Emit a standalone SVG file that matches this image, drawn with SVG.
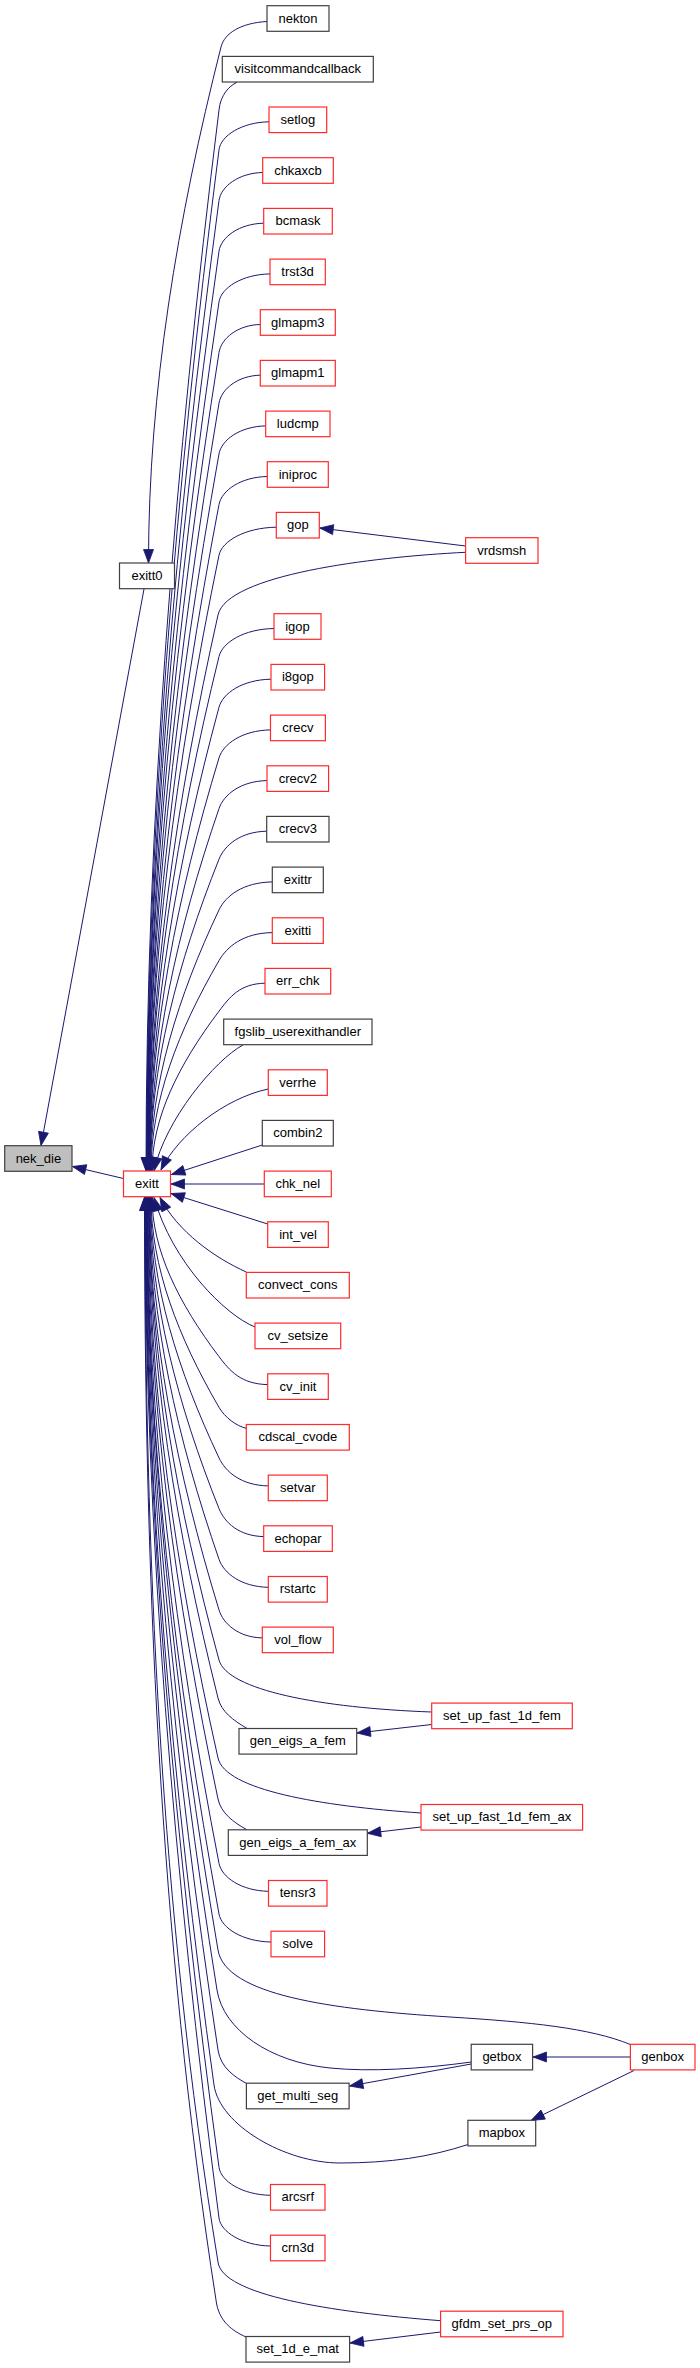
<svg xmlns="http://www.w3.org/2000/svg" width="700" height="2368" viewBox="0 0 700 2368">
<defs>
<style>
.n rect{fill:#fff;stroke:#404040;stroke-width:1.2}
.r rect{fill:#fff;stroke:#ff2a2a;stroke-width:1.2}
.g rect{fill:#bfbfbf;stroke:#404040;stroke-width:1.2}
text{font-family:"Liberation Sans",Arial,sans-serif;font-size:13px;fill:#000;text-anchor:middle}
#edges path{fill:none;stroke:#191970;stroke-width:1;marker-end:url(#a)}
</style>
<marker id="a" markerUnits="userSpaceOnUse" orient="auto" refX="0" refY="0" markerWidth="16" markerHeight="12" overflow="visible">
<path d="M-13.5,-5 L0,0 L-13.5,5 z" fill="#191970" stroke="#191970" stroke-width="0.8"/>
</marker>
</defs>
<rect width="700" height="2368" fill="#fff"/>
<g id="edges">
<path d="M267,21.5 C241,23 224.5,33 221,47 C177.5,219 148.5,391 148.5,563"/>
<path d="M144,589 L41,1145.5"/>
<path d="M123.5,1178.5 L72.5,1166.5"/>
<path d="M237,82.3 C229,86 220.5,95 219,110 C175.2,463.7 146,817.3 146,1171"/>
<path d="M269,121.8 C241.5,122.3 220.8,135.8 219,149.8 C175.5,490.2 146.5,830.6 146.5,1171"/>
<path d="M262.7,172.5 C238.7,173 220.9,186.5 219,200.5 C175.8,524 147,847.5 147,1171"/>
<path d="M263.7,223.2 C239.1,223.7 221,237.2 219,251.2 C175.8,557.8 147,864.4 147,1171"/>
<path d="M270,273.9 C242,274.4 221.1,287.9 219,301.9 C176.1,591.6 147.5,881.3 147.5,1171"/>
<path d="M260.3,324.5 C237.6,325 221.2,338.5 219,352.5 C176.1,625.3 147.5,898.2 147.5,1171"/>
<path d="M260.3,375.2 C237.6,375.7 221.3,389.2 219,403.2 C176.4,659.1 148,915.1 148,1171"/>
<path d="M265.7,425.9 C240,426.4 221.5,439.9 219,453.9 C176.4,692.9 148,932 148,1171"/>
<path d="M267.3,476.5 C240.7,477 221.7,490.5 219,504.5 C176.7,726.7 148.5,948.8 148.5,1171"/>
<path d="M276.3,527.2 C244.8,527.7 221.9,541.2 219,555.2 C176.7,760.5 148.5,965.7 148.5,1171"/>
<path d="M465.6,552.3 C370,557 226.9,575 218,615 C176.6,800.3 149,985.7 149,1171"/>
<path d="M465.6,546 L319.8,528"/>
<path d="M274,628.5 C243.8,629 222.4,642.5 219,656.5 C177,828 149,999.5 149,1171"/>
<path d="M271,679.2 C242.4,679.7 222.8,693.2 219,707.2 C177.3,861.8 149.5,1016.4 149.5,1171"/>
<path d="M270.5,729.9 C242.2,730.4 223.2,743.9 219,757.9 C177.3,895.6 149.5,1033.3 149.5,1171"/>
<path d="M267,780.6 C240.6,781.1 223.8,794.6 219,808.6 C177.6,929.4 150,1050.2 150,1171"/>
<path d="M266.7,831.2 C240.5,831.7 224.6,845.2 219,859.2 C177.6,963.1 150,1067.1 150,1171"/>
<path d="M272.3,881.9 C243,882.4 225.6,895.9 219,909.9 C177.9,996.9 150.5,1084 150.5,1171"/>
<path d="M272.3,932.6 C243,933.1 227.1,946.6 219,960.6 C178.2,1030.7 151,1100.9 151,1171"/>
<path d="M265,983.2 C239.7,983.7 229.6,997.2 219,1011.2 C178.8,1064.5 152,1117.7 152,1171"/>
<path d="M243,1045 C215,1060 165,1120 154,1171"/>
<path d="M268.3,1089 C225,1098 178,1135 161,1170"/>
<path d="M262.3,1145 L171.5,1174.5"/>
<path d="M264.3,1184 L171,1184"/>
<path d="M267.7,1224 L171,1193.5"/>
<path d="M246.3,1272 C215,1258 178,1232 160,1197.5"/>
<path d="M255,1327 C225,1315 172,1262 154,1197.5"/>
<path d="M267.7,1384.6 C240.9,1384.1 229.6,1370.6 219,1356.6 C178.8,1303.4 152,1250.2 152,1197"/>
<path d="M247,1428.5 C236,1426 224.8,1417.3 219,1407.3 C178.2,1337.2 151,1267.1 151,1197"/>
<path d="M268.3,1485.9 C241.2,1485.4 225.6,1471.9 219,1457.9 C177.9,1370.9 150.5,1284 150.5,1197"/>
<path d="M263.7,1536.6 C239.1,1536.1 224.6,1522.6 219,1508.6 C177.6,1404.7 150,1300.9 150,1197"/>
<path d="M268.3,1587.3 C241.2,1586.8 223.8,1573.3 219,1559.3 C177.3,1438.5 149.5,1317.8 149.5,1197"/>
<path d="M262.3,1637.9 C238.5,1637.4 223.3,1623.9 219,1609.9 C177,1472.3 149,1334.6 149,1197"/>
<path d="M431.7,1712 C320,1708 227.2,1690 219,1660 C177,1505.7 149,1351.3 149,1197"/>
<path d="M431.7,1724.5 L357,1733"/>
<path d="M247,1728.5 C233,1720 221.5,1712 218,1698 C176.3,1531 148.5,1364 148.5,1197"/>
<path d="M421,1813 C320,1806 225.2,1790 218,1758 C176,1571 148,1384 148,1197"/>
<path d="M421,1827 L367.3,1833.3"/>
<path d="M247,1829.8 C233,1822 221,1813 218,1799 C175.7,1598.3 147.5,1397.7 147.5,1197"/>
<path d="M268.5,1891.3 C241.3,1890.8 221.7,1877.3 219,1863.3 C175.8,1641.2 147,1419.1 147,1197"/>
<path d="M271,1942 C242.4,1941.5 221.5,1928 219,1914 C175.5,1675 146.5,1436 146.5,1197"/>
<path d="M630.4,2044.5 C590,2028 530,2022 450,2017 C330,2009.5 225.6,1995 218,1950 C175.4,1699 147,1448 147,1197"/>
<path d="M630.4,2057 L533,2057"/>
<path d="M634,2070.5 L531,2120.5"/>
<path d="M471.5,2062 C420,2069 370,2072 330,2068 C270,2062 223.4,2030 217,1990 C174.7,1725.7 146.5,1461.3 146.5,1197"/>
<path d="M471.2,2064 L349.5,2086"/>
<path d="M246.5,2083.5 C235,2077 220.7,2068 218,2050 C174.8,1765.7 146,1481.3 146,1197"/>
<path d="M468,2144.5 C430,2157 390,2163 340,2163 C285,2163 219.6,2125 214,2085 C172.9,1789 145.5,1493 145.5,1197"/>
<path d="M270.5,2195.3 C242.2,2194.8 220.9,2181.3 219,2167.3 C174.9,1843.9 145.5,1520.4 145.5,1197"/>
<path d="M270.5,2246 C242.2,2245.5 220.8,2232 219,2218 C174.6,1877.7 145,1537.3 145,1197"/>
<path d="M440.6,2320.7 C330,2312 222,2295 218,2262 C160,1907 145,1552 145,1197"/>
<path d="M440.6,2332 L350,2343"/>
<path d="M246,2337 C233,2331 218.6,2322 216,2300 C158.8,1932.3 144.5,1564.7 144.5,1197"/>
</g>
<g id="nek_die" class="g"><rect x="4.7" y="1145.7" width="67.3" height="25.6"/><text x="38.4" y="1162.5">nek_die</text></g>
<g id="exitt" class="r"><rect x="123.5" y="1171" width="47" height="25.7"/><text x="147" y="1188">exitt</text></g>
<g id="exitt0" class="n"><rect x="119.5" y="563" width="55" height="25.7"/><text x="147" y="580">exitt0</text></g>
<g id="nekton" class="n"><rect x="267" y="5.7" width="62" height="25.6"/><text x="298" y="22.5">nekton</text></g>
<g id="visitcommandcallback" class="n"><rect x="222.3" y="56.4" width="151" height="25.6"/><text x="297.8" y="73.2">visitcommandcallback</text></g>
<g id="setlog" class="r"><rect x="269" y="107" width="57.7" height="25.6"/><text x="297.8" y="123.8">setlog</text></g>
<g id="chkaxcb" class="r"><rect x="262.7" y="157.7" width="70.6" height="25.6"/><text x="298" y="174.5">chkaxcb</text></g>
<g id="bcmask" class="r"><rect x="263.7" y="208.4" width="68.6" height="25.6"/><text x="298" y="225.2">bcmask</text></g>
<g id="trst3d" class="r"><rect x="270" y="259.1" width="55.3" height="25.6"/><text x="297.6" y="275.9">trst3d</text></g>
<g id="glmapm3" class="r"><rect x="260.3" y="309.7" width="75" height="25.6"/><text x="297.8" y="326.5">glmapm3</text></g>
<g id="glmapm1" class="r"><rect x="260.3" y="360.4" width="75" height="25.6"/><text x="297.8" y="377.2">glmapm1</text></g>
<g id="ludcmp" class="r"><rect x="265.7" y="411.1" width="64.3" height="25.6"/><text x="297.8" y="427.9">ludcmp</text></g>
<g id="iniproc" class="r"><rect x="267.3" y="461.7" width="61" height="25.6"/><text x="297.8" y="478.5">iniproc</text></g>
<g id="gop" class="r"><rect x="276.3" y="512.4" width="43" height="25.6"/><text x="297.8" y="529.2">gop</text></g>
<g id="vrdsmsh" class="r"><rect x="465.6" y="537.7" width="72.4" height="25.6"/><text x="501.8" y="554.5">vrdsmsh</text></g>
<g id="igop" class="r"><rect x="274" y="613.7" width="47" height="25.6"/><text x="297.5" y="630.5">igop</text></g>
<g id="i8gop" class="r"><rect x="271" y="664.4" width="53.6" height="25.6"/><text x="297.8" y="681.2">i8gop</text></g>
<g id="crecv" class="r"><rect x="270.5" y="715.1" width="54.9" height="25.6"/><text x="297.9" y="731.9">crecv</text></g>
<g id="crecv2" class="r"><rect x="267" y="765.8" width="61.6" height="25.6"/><text x="297.8" y="782.6">crecv2</text></g>
<g id="crecv3" class="n"><rect x="266.7" y="816.4" width="62.3" height="25.6"/><text x="297.8" y="833.2">crecv3</text></g>
<g id="exittr" class="n"><rect x="272.3" y="867.1" width="51" height="25.6"/><text x="297.8" y="883.9">exittr</text></g>
<g id="exitti" class="r"><rect x="272.3" y="917.8" width="51" height="25.6"/><text x="297.8" y="934.6">exitti</text></g>
<g id="err_chk" class="r"><rect x="265" y="968.4" width="65.7" height="25.6"/><text x="297.8" y="985.2">err_chk</text></g>
<g id="fgslib_userexithandler" class="n"><rect x="223.7" y="1019.1" width="148.3" height="25.6"/><text x="297.8" y="1035.9">fgslib_userexithandler</text></g>
<g id="verrhe" class="r"><rect x="268.3" y="1069.8" width="59" height="25.6"/><text x="297.8" y="1086.6">verrhe</text></g>
<g id="combin2" class="n"><rect x="262.3" y="1120.4" width="71" height="25.6"/><text x="297.8" y="1137.2">combin2</text></g>
<g id="chk_nel" class="r"><rect x="264.3" y="1171.1" width="67" height="25.6"/><text x="297.8" y="1187.9">chk_nel</text></g>
<g id="int_vel" class="r"><rect x="267.7" y="1221.8" width="60.6" height="25.6"/><text x="298" y="1238.6">int_vel</text></g>
<g id="convect_cons" class="r"><rect x="246.3" y="1272.4" width="103" height="25.6"/><text x="297.8" y="1289.2">convect_cons</text></g>
<g id="cv_setsize" class="r"><rect x="255" y="1323.1" width="85.7" height="25.6"/><text x="297.8" y="1339.9">cv_setsize</text></g>
<g id="cv_init" class="r"><rect x="267.7" y="1373.8" width="60.6" height="25.6"/><text x="298" y="1390.6">cv_init</text></g>
<g id="cdscal_cvode" class="r"><rect x="246.3" y="1424.5" width="103" height="25.6"/><text x="297.8" y="1441.3">cdscal_cvode</text></g>
<g id="setvar" class="r"><rect x="268.3" y="1475.1" width="59" height="25.6"/><text x="297.8" y="1491.9">setvar</text></g>
<g id="echopar" class="r"><rect x="263.7" y="1525.8" width="68.6" height="25.6"/><text x="298" y="1542.6">echopar</text></g>
<g id="rstartc" class="r"><rect x="268.3" y="1576.5" width="59" height="25.6"/><text x="297.8" y="1593.3">rstartc</text></g>
<g id="vol_flow" class="r"><rect x="262.3" y="1627.1" width="71" height="25.6"/><text x="297.8" y="1643.9">vol_flow</text></g>
<g id="set_up_fast_1d_fem" class="r"><rect x="431.7" y="1703.1" width="140.6" height="25.6"/><text x="502" y="1719.9">set_up_fast_1d_fem</text></g>
<g id="gen_eigs_a_fem" class="n"><rect x="239" y="1728.5" width="117.7" height="25.6"/><text x="297.8" y="1745.3">gen_eigs_a_fem</text></g>
<g id="set_up_fast_1d_fem_ax" class="r"><rect x="421" y="1804.5" width="161.6" height="25.6"/><text x="501.8" y="1821.3">set_up_fast_1d_fem_ax</text></g>
<g id="gen_eigs_a_fem_ax" class="n"><rect x="228.3" y="1829.8" width="139" height="25.6"/><text x="297.8" y="1846.6">gen_eigs_a_fem_ax</text></g>
<g id="tensr3" class="r"><rect x="268.5" y="1880.5" width="58.5" height="25.6"/><text x="297.8" y="1897.3">tensr3</text></g>
<g id="solve" class="r"><rect x="271" y="1931.2" width="53.6" height="25.6"/><text x="297.8" y="1948">solve</text></g>
<g id="getbox" class="n"><rect x="471.2" y="2044.3" width="61.4" height="25.6"/><text x="501.9" y="2061.1">getbox</text></g>
<g id="genbox" class="r"><rect x="630.4" y="2044.3" width="64.6" height="25.6"/><text x="662.7" y="2061.1">genbox</text></g>
<g id="get_multi_seg" class="n"><rect x="246.4" y="2083.2" width="102.7" height="25.6"/><text x="297.8" y="2100">get_multi_seg</text></g>
<g id="mapbox" class="n"><rect x="467.9" y="2120.3" width="67.8" height="25.6"/><text x="501.8" y="2137.1">mapbox</text></g>
<g id="arcsrf" class="r"><rect x="270.5" y="2184.5" width="54.5" height="25.6"/><text x="297.8" y="2201.3">arcsrf</text></g>
<g id="crn3d" class="r"><rect x="270.5" y="2235.2" width="54.5" height="25.6"/><text x="297.8" y="2252">crn3d</text></g>
<g id="gfdm_set_prs_op" class="r"><rect x="440.6" y="2311.2" width="122.4" height="25.6"/><text x="501.8" y="2328">gfdm_set_prs_op</text></g>
<g id="set_1d_e_mat" class="n"><rect x="246" y="2336.5" width="103.6" height="25.6"/><text x="297.8" y="2353.3">set_1d_e_mat</text></g>
</svg>
